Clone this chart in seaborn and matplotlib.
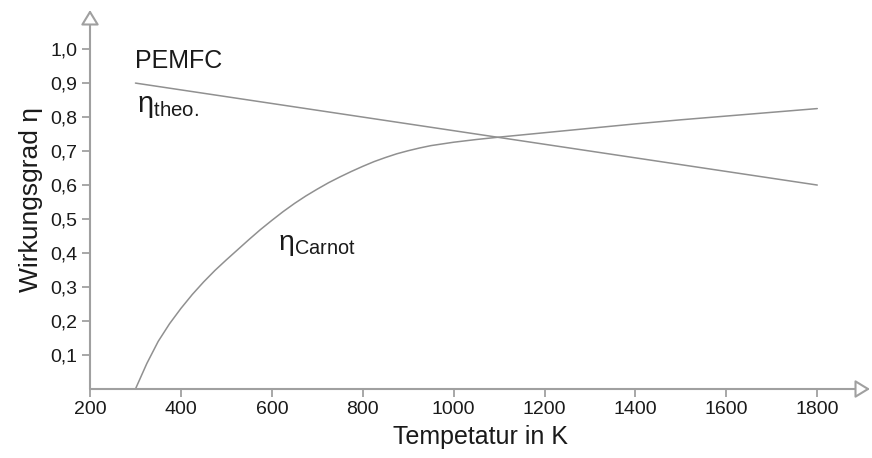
import numpy as np
import pandas as pd
import matplotlib
matplotlib.use("Agg")
import matplotlib.pyplot as plt
import seaborn as sns

# values
temp_theo = [300, 1800]
eta_theo = [0.90, 0.60]

temp_carnot = [300, 325, 350, 375, 400, 425, 450, 475, 500, 525, 550, 575, 600, 625, 650,
               675, 700, 725, 750, 775, 800, 825, 850, 875, 900, 925, 950, 975, 1000,
               1050, 1100, 1200, 1300, 1400, 1500, 1600, 1700, 1800]
eta_carnot = [0.0, 0.075, 0.14, 0.192, 0.237, 0.278, 0.315, 0.349, 0.38, 0.41, 0.44, 0.469,
              0.496, 0.522, 0.546, 0.568, 0.588, 0.607, 0.624, 0.640, 0.655, 0.669, 0.681,
              0.692, 0.701, 0.709, 0.716, 0.721, 0.726, 0.734, 0.741, 0.754, 0.767, 0.780,
              0.792, 0.803, 0.814, 0.825]

x_ticks = [200, 400, 600, 800, 1000, 1200, 1400, 1600, 1800]
y_ticks = [0.1, 0.2, 0.3, 0.4, 0.5, 0.6, 0.7, 0.8, 0.9, 1.0]
y_ticklabels = ["0,1", "0,2", "0,3", "0,4", "0,5", "0,6", "0,7", "0,8", "0,9", "1,0"]

sns.set_style("white")
plt.rcParams['font.family'] = ['Liberation Sans', 'DejaVu Sans']
plt.rcParams['mathtext.fontset'] = 'custom'
plt.rcParams['mathtext.rm'] = 'Liberation Sans'
plt.rcParams['mathtext.it'] = 'Liberation Sans:italic'

line_col = "#909090"
axis_col = "#a0a0a0"
txt_col = "#1a1a1a"

df_theo = pd.DataFrame({"T": temp_theo, "eta": eta_theo})
df_carnot = pd.DataFrame({"T": temp_carnot, "eta": eta_carnot})

fig = plt.figure(figsize=(8.72, 4.58), dpi=100)
ax = fig.add_axes([90 / 872, 69 / 458, 780 / 872, 379 / 458])

sns.lineplot(data=df_theo, x="T", y="eta", ax=ax, color=line_col, lw=1.1)
sns.lineplot(data=df_carnot, x="T", y="eta", ax=ax, color=line_col, lw=1.1)

x_max = 1916
y_max = 1.115
ax.set_xlim(200, x_max)
ax.set_ylim(0, y_max)
for s in ax.spines.values():
    s.set_visible(False)

# axes with hollow arrow heads
arrow = dict(arrowstyle="-|>,head_length=9,head_width=5.5", mutation_scale=1,
             fc="white", ec=axis_col, lw=1.5, shrinkA=0, shrinkB=0)
ax.annotate("", xy=(x_max, 0), xytext=(200, 0), arrowprops=arrow, annotation_clip=False)
ax.annotate("", xy=(200, y_max), xytext=(200, 0), arrowprops=arrow, annotation_clip=False)

ax.set_xticks(x_ticks)
ax.set_yticks(y_ticks)
ax.set_yticklabels(y_ticklabels)
ax.tick_params(axis="both", direction="out", length=6, width=1.3, color=axis_col,
               labelsize=14, labelcolor=txt_col, left=True, bottom=True, pad=3)

ax.set_xlabel("Tempetatur in K", fontsize=18, color=txt_col, labelpad=5)
ax.set_ylabel("Wirkungsgrad η", fontsize=19, color=txt_col, labelpad=5)

ax.text(299, 0.944, "PEMFC", fontsize=18, color=txt_col, va="baseline")
ax.text(303, 0.815, r"$\mathregular{\eta_{theo.}}$", fontsize=21, color=txt_col, va="baseline")
ax.text(614, 0.41, r"$\mathregular{\eta_{Carnot}}$", fontsize=20.5, color=txt_col, va="baseline")

fig.savefig("out.png", dpi=100)
